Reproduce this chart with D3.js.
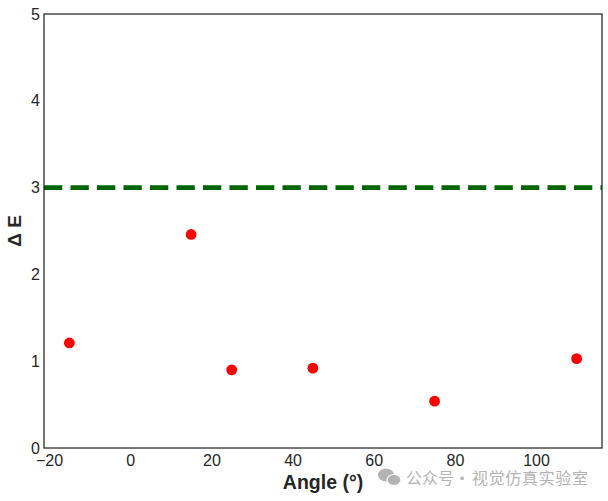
<!DOCTYPE html>
<html>
<head>
<meta charset="utf-8">
<script src="https://cdn.jsdelivr.net/npm/d3@7"></script>
<style>
  body { margin: 0; background: #fff; }
  svg { display: block; }
</style>
</head>
<body>
<div id="content"></div>
<script>
// Data.
var angles = [-15, 15, 25, 45, 75, 110];
var deltaE = [1.21, 2.46, 0.90, 0.92, 0.54, 1.03];
var threshold = 3;
var xTicks = [-20, 0, 20, 40, 60, 80, 100];
var yTicks = [0, 1, 2, 3, 4, 5];

// SVG Dimensions.
var W = 608, H = 501;
var margin = {left : 44, right : 6, top : 14, bottom : 53};
var width = W - margin.left - margin.right;
var height = H - margin.top - margin.bottom;
var textColor = '#262626';
var font = '"Liberation Sans", Arial, sans-serif';

var svg = d3.select('#content')
              .append('svg')
              .attr('width', W)
              .attr('height', H)
              .style('font-family', font);

var g = svg.append('g').attr('transform', 'translate(' + margin.left + ',' + margin.top + ')');

// Scales (matplotlib style 5% margin on x).
var xPad = (d3.max(angles) - d3.min(angles)) * 0.05;
var x = d3.scaleLinear()
            .domain([d3.min(angles) - xPad, d3.max(angles) + xPad])
            .range([0, width]);
var y = d3.scaleLinear().domain([0, 5]).range([height, 0]);

// Axes, no tick marks.
var xAxis = g.append('g')
    .attr('transform', 'translate(0,' + height + ')')
    .call(d3.axisBottom(x).tickValues(xTicks).tickSize(0).tickPadding(7)
            .tickFormat(function(d) { return d < 0 ? '\u2212' + Math.abs(d) : d; }));
var yAxis = g.append('g')
    .call(d3.axisLeft(y).tickValues(yTicks).tickSize(0).tickPadding(4)
            .tickFormat(d3.format('d')));

[xAxis, yAxis].forEach(function(a) {
  a.select('.domain').remove();
  a.selectAll('text')
      .attr('fill', textColor)
      .style('font-size', '16px')
      .style('font-family', font);
});

// Threshold line.
g.append('line')
    .attr('x1', 0)
    .attr('x2', width)
    .attr('y1', y(threshold))
    .attr('y2', y(threshold))
    .attr('stroke', '#006400')
    .attr('stroke-width', 4.7)
    .attr('stroke-dasharray', '18.3 8.2');

// Points.
var data = angles.map(function(a, i) { return {x : a, y : deltaE[i]}; });
g.selectAll('circle.pt')
    .data(data)
    .enter().append('circle')
    .attr('class', 'pt')
    .attr('cx', function(d) { return x(d.x); })
    .attr('cy', function(d) { return y(d.y); })
    .attr('r', 5.4)
    .attr('fill', '#ff0000');

// Frame.
g.append('rect')
    .attr('width', width)
    .attr('height', height)
    .attr('fill', 'none')
    .attr('stroke', textColor)
    .attr('stroke-width', 1.25);

// Axis labels.
svg.append('text')
    .attr('x', margin.left + width / 2)
    .attr('y', 489)
    .attr('text-anchor', 'middle')
    .attr('fill', textColor)
    .style('font-size', '19.5px')
    .style('font-weight', 'bold')
    .text('Angle (\u00b0)');

svg.append('text')
    .attr('transform', 'translate(21,' + (margin.top + height / 2) + ') rotate(-90)')
    .attr('text-anchor', 'middle')
    .attr('fill', textColor)
    .style('font-size', '19px')
    .style('font-weight', 'bold')
    .text('\u0394 E');

// Watermark.
var wm = svg.append('g').attr('fill', '#b4b4b4')
    .style('font-family', '"Noto Sans CJK SC", sans-serif')
    .style('font-size', '16px');
wm.append('ellipse').attr('cx', 386).attr('cy', 475).attr('rx', 8).attr('ry', 6.5);
wm.append('ellipse').attr('cx', 394).attr('cy', 480).attr('rx', 7).attr('ry', 5.5)
    .attr('stroke', '#fff').attr('stroke-width', 1.2);
wm.append('text').attr('x', 406).attr('y', 484).text('公众号');
wm.append('text').attr('x', 462).attr('y', 484).attr('text-anchor', 'middle').text('\u00b7');
wm.append('text').attr('x', 472).attr('y', 484)
    .attr('textLength', 116).attr('lengthAdjust', 'spacing').text('视觉仿真实验室');
</script>
</body>
</html>
